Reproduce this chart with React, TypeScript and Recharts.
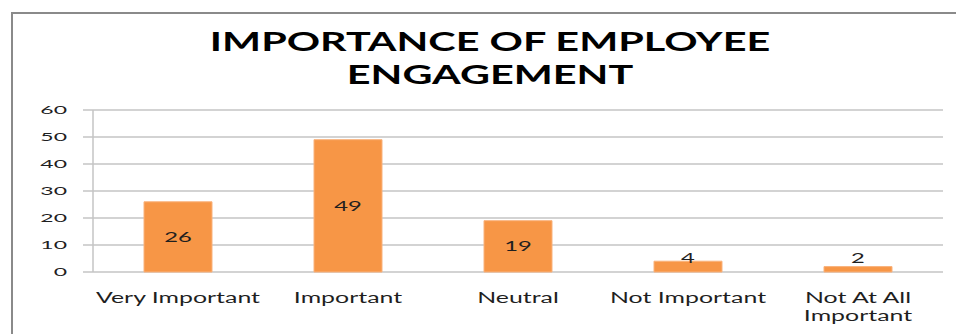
import React from "react";
import { BarChart, Bar, XAxis, YAxis, CartesianGrid, LabelList } from "recharts";

// Survey responses
const categories = ["Very Important", "Important", "Neutral", "Not Important", "Not At All Important"];
const responses = [26, 49, 19, 4, 2];
const yTicks = [0, 10, 20, 30, 40, 50, 60];
// Category boundaries (for the outside tick marks between columns)
const boundaryTicks = [0, 1, 2, 3, 4, 5];
const titleLines = ["IMPORTANCE OF EMPLOYEE", "ENGAGEMENT"];

const data = categories.map((name, i) => ({ name, value: responses[i] }));

const FONT = "Lato, 'Open Sans', sans-serif";
const TEXT = "#1f1f1f";
const GRID = "#c4c4c4";
const BAR = "#F79646";

// horizontal stretch applied to glyphs, giving the wide lettering
const TITLE_SX = 1.56;
const CAT_SX = 1.66;
const VALUE_SX = 1.7;
const YTICK_SX = 2.0;

const W = 956;
const H = 334;

const YTick = (props: any) => {
  const { x, y, payload } = props;
  return (
    <text
      transform={`translate(${x},${y}) scale(${YTICK_SX},1)`}
      textAnchor="end"
      dy="0.36em"
      fontSize={11.5}
      fontFamily={FONT}
      fill={TEXT}
    >
      {payload.value}
    </text>
  );
};

// short downward mark at each column boundary
const BoundaryTick = (props: any) => {
  const { x, y } = props;
  return <line x1={x} x2={x} y1={y} y2={y + 5} stroke={GRID} strokeWidth={1.5} />;
};

const splitLabel = (label: string): string[] => {
  const words = label.split(" ");
  if (label.length <= 16 || words.length < 2) return [label];
  return [words.slice(0, -1).join(" "), words[words.length - 1]];
};

const CategoryTick = (props: any) => {
  const { x, y, payload } = props;
  const lines = splitLabel(String(payload.value));
  return (
    <g>
      {lines.map((line, i) => (
        <text
          key={i}
          transform={`translate(${x},${y + 31 + i * 17.5}) scale(${CAT_SX},1)`}
          textAnchor="middle"
          fontSize={15}
          fontFamily={FONT}
          fill={TEXT}
        >
          {line}
        </text>
      ))}
    </g>
  );
};

const ValueLabel = (props: any) => {
  const x = Number(props.x);
  const y = Number(props.y);
  const width = Number(props.width);
  const height = Number(props.height);
  const cx = x + width / 2;
  // centred in the column, but kept clear of the axis for short columns
  const cy = Math.min(y + height / 2, y + height - 14.5);
  return (
    <text
      transform={`translate(${cx},${cy}) scale(${VALUE_SX},1)`}
      textAnchor="middle"
      dy="0.36em"
      fontSize={14}
      fontFamily={FONT}
      fill={TEXT}
    >
      {props.value}
    </text>
  );
};

export default function App() {
  return (
    <div
      style={{
        position: "absolute",
        left: 0,
        top: 0,
        width: W,
        height: H,
        overflow: "hidden",
        background: "#ffffff",
      }}
    >
      <div
        style={{
          position: "absolute",
          left: 11,
          top: 12,
          width: W + 20,
          height: H + 20,
          borderLeft: "2px solid #8a8a8a",
          borderTop: "2px solid #8a8a8a",
          boxSizing: "border-box",
        }}
      />
      <svg
        width={W}
        height={H}
        style={{ position: "absolute", left: 0, top: 0, pointerEvents: "none" }}
      >
        {titleLines.map((line, i) => (
          <text
            key={i}
            transform={`translate(490,${51 + i * 32.5}) scale(${TITLE_SX},1)`}
            textAnchor="middle"
            fontSize={26.5}
            fontWeight={700}
            fontFamily={FONT}
            fill="#000000"
          >
            {line}
          </text>
        ))}
      </svg>
      <div style={{ position: "absolute", left: 0, top: 0 }}>
        <BarChart
          width={W}
          height={H}
          data={data}
          margin={{ top: 110, right: 13, bottom: 0, left: 0 }}
          barCategoryGap="30%"
        >
          <CartesianGrid xAxisId="cat" vertical={false} stroke={GRID} strokeWidth={1.5} />
          <XAxis
            xAxisId="bounds"
            type="number"
            domain={[0, 5]}
            ticks={boundaryTicks}
            interval={0}
            height={0}
            tickSize={0}
            tickMargin={0}
            tickLine={false}
            axisLine={false}
            tick={<BoundaryTick />}
          />
          <XAxis
            xAxisId="cat"
            dataKey="name"
            height={62}
            tickSize={0}
            tickMargin={0}
            tickLine={false}
            axisLine={false}
            interval={0}
            tick={<CategoryTick />}
          />
          <YAxis
            width={93}
            domain={[0, 60]}
            ticks={yTicks}
            interval={0}
            tickSize={10}
            tickMargin={16}
            tickLine={{ stroke: GRID, strokeWidth: 1.5 }}
            axisLine={{ stroke: GRID, strokeWidth: 1.5 }}
            tick={<YTick />}
          />
          <Bar
            xAxisId="cat"
            dataKey="value"
            fill={BAR}
            stroke="#f9b27c"
            strokeWidth={1}
            isAnimationActive={false}
          >
            <LabelList dataKey="value" content={<ValueLabel />} />
          </Bar>
        </BarChart>
      </div>
    </div>
  );
}
